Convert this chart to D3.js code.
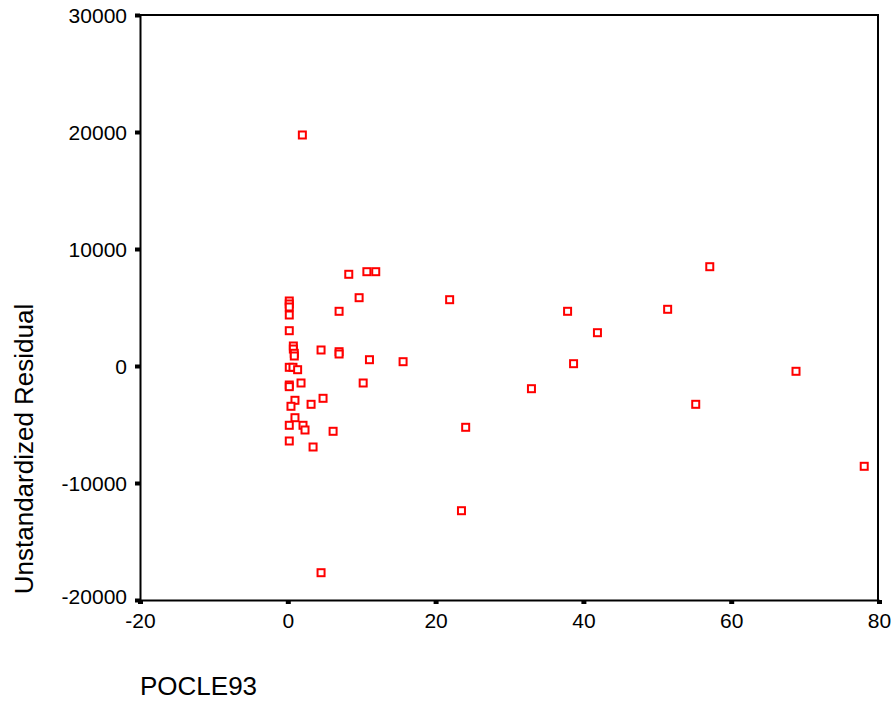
<!DOCTYPE html>
<html>
<head>
<meta charset="utf-8">
<script src="https://cdn.jsdelivr.net/npm/d3@7"></script>
<style>
  body { margin: 0; background: #fff; }
  text { font-family: Arial, "Liberation Sans", sans-serif; fill: #000; }
</style>
</head>
<body>
<svg id="chart"></svg>
<script>
// POCLE93 values (x) and unstandardized residuals (y)
const pocle93 = [
  1.97, 8.25, 10.7, 11.9, 0.2, 0.2, 0.2, 0.2, 9.65, 21.9,
  6.94, 0.2, 0.75, 0.75, 0.88, 0.88, 4.5, 6.94, 6.94, 11.05,
  15.6, 0.2, 0.7, 1.33, 0.2, 0.2, 1.79, 10.2, 0.97, 4.77,
  0.43, 3.15, 0.97, 0.2, 2.06, 2.33, 6.13, 0.2, 3.42, 24.07,
  23.5, 4.5, 57.1, 37.86, 51.4, 41.9, 38.67, 32.97, 68.77, 55.2,
  78.0
];
const residual = [
  19744, 7838, 8060, 8060, 5556, 5299, 5043, 4359, 5838, 5667,
  4675, 3017, 1710, 1450, 1085, 855, 1368, 1222, 1026, 538,
  368, -111, -111, -316, -1624, -1766, -1453, -1453, -2932, -2761,
  -3444, -3274, -4419, -5068, -5068, -5470, -5581, -6410, -6923, -5239,
  -12368, -17667, 8487, 4675, 4846, 2846, 197, -1940, -453, -3274,
  -8573
];
const xTicks = [-20, 0, 20, 40, 60, 80];
const yTicks = [-20000, -10000, 0, 10000, 20000, 30000];

const width = 896, height = 702;
const plotLeft = 140, plotRight = 879, plotTop = 15, plotBottom = 600;

const svg = d3.select('#chart')
  .attr('width', width)
  .attr('height', height);

const x = d3.scaleLinear().domain([-20, 80]).range([plotLeft, plotRight]);
const y = d3.scaleLinear().domain([-20000, 30000]).range([plotBottom, plotTop]);

// plain hyphen for negatives, like the original
const fmt = d => String(d);

// frame (top and right)
svg.append('path')
  .attr('d', `M${plotLeft},${plotTop}H${x(80) - 1}V${plotBottom}`)
  .attr('fill', 'none')
  .attr('stroke', '#000')
  .attr('stroke-width', 2);

// y axis
const yAxis = svg.append('g')
  .attr('transform', `translate(${plotLeft},0)`)
  .call(d3.axisLeft(y).tickValues(yTicks).tickFormat(fmt).tickSize(5).tickSizeOuter(0).tickPadding(8));
yAxis.select('.domain').attr('stroke-width', 2);
yAxis.selectAll('.tick line').attr('stroke-width', 4);
yAxis.selectAll('.tick text')
  .attr('font-size', 21)
  .attr('dy', d => d === -20000 ? '0.15em' : '0.35em');

// x axis
const xAxis = svg.append('g')
  .attr('transform', `translate(0,${plotBottom})`)
  .call(d3.axisBottom(x).tickValues(xTicks).tickFormat(fmt).tickSize(4).tickSizeOuter(0).tickPadding(9));
xAxis.select('.domain').attr('stroke-width', 2);
xAxis.selectAll('.tick line').attr('stroke-width', 5);
xAxis.selectAll('.tick text').attr('font-size', 21);

// points
svg.append('g')
  .selectAll('rect')
  .data(pocle93.map((v, i) => [v, residual[i]]))
  .join('rect')
  .attr('x', d => x(d[0]) - 3.5)
  .attr('y', d => y(d[1]) - 3.5)
  .attr('width', 7)
  .attr('height', 7)
  .attr('fill', '#fff')
  .attr('stroke', '#ff0000')
  .attr('stroke-width', 2);

// axis titles
svg.append('text')
  .attr('transform', `translate(33,449) rotate(-90)`)
  .attr('text-anchor', 'middle')
  .attr('font-size', 26)
  .text('Unstandardized Residual');

svg.append('text')
  .attr('x', 140)
  .attr('y', 695)
  .attr('font-size', 26)
  .text('POCLE93');
</script>
</body>
</html>
